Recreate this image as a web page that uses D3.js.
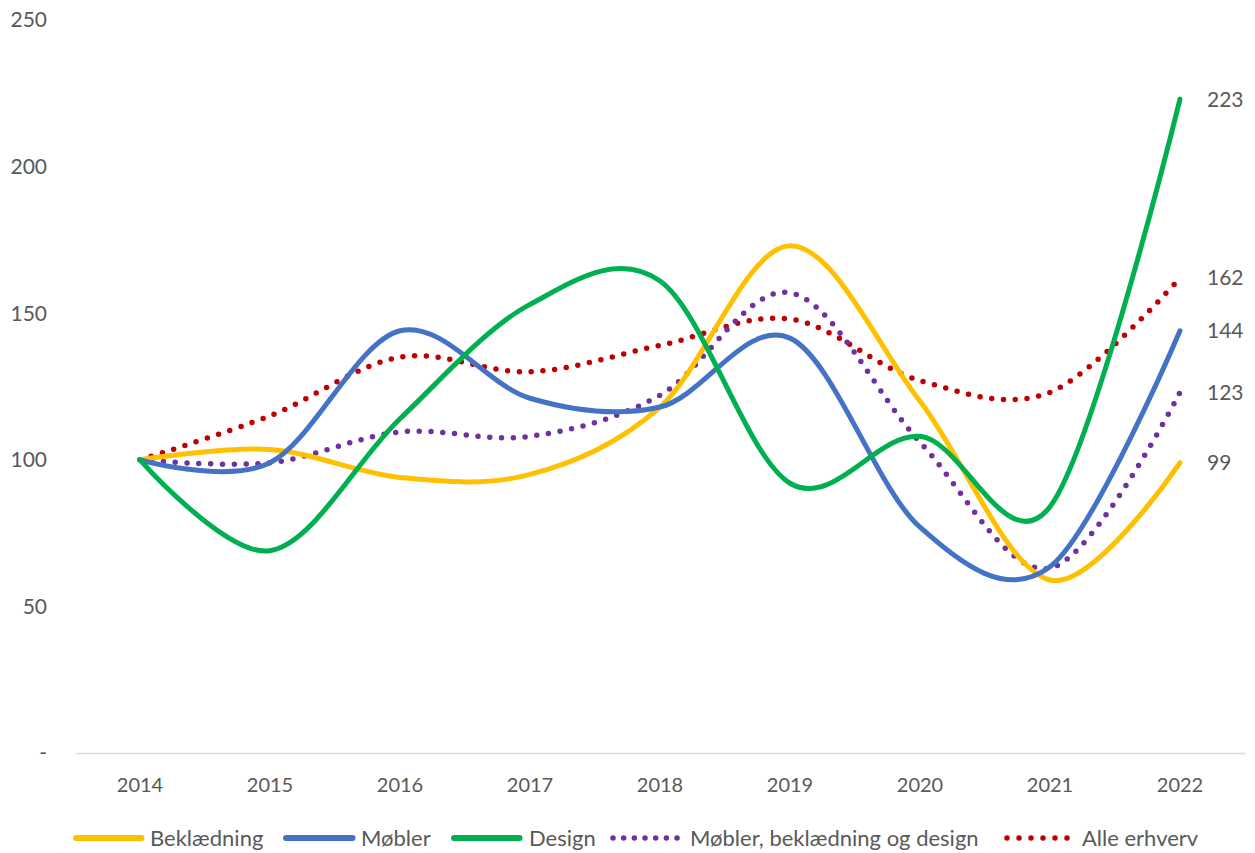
<!DOCTYPE html>
<html><head><meta charset="utf-8">
<script src="https://cdn.jsdelivr.net/npm/d3@7"></script>
<style>body{margin:0;background:#fff}svg{display:block}text{font-family:Lato,"Open Sans",sans-serif;fill:#595959}</style>
</head><body><svg id="c" width="1255" height="853"></svg>
<script>
const years = ["2014","2015","2016","2017","2018","2019","2020","2021","2022"];
const yTicks = [0,50,100,150,200,250];
const seriesNames = ["Beklædning","Møbler","Design","Møbler, beklædning og design","Alle erhverv"];
const beklaedning = [100,103.5,94,95,118,173,120,59,99];
const mobler = [100,99,144,121,118,141.5,77,63.5,144];
const design = [100,69,114,153,161,92,108,84,223];
const samlet = [100,99,109.5,108,122,157,106,63,123];
const alle = [100,115,135,130,139,148,127,123,162];
const endLabels = [99,144,223,123,162];
const colors = ["#FFC000","#4472C4","#00B050","#7030A0","#C00000"];
const dotted = [false,false,false,true,true];

const svg = d3.select("#c");
const x = d3.scaleBand().domain(years).range([75,1245]).padding(0);
const cx = d => x(d)+x.bandwidth()/2;
const y = d3.scaleLinear().domain([0,250]).range([753,20]);

// y labels
svg.append("g").selectAll("text").data(yTicks).join("text")
  .attr("x",47).attr("y",d=>y(d)).attr("dy","0.35em").attr("text-anchor","end")
  .style("font-size","21px").text(d=>d===0?"-":d);

// x axis
const xa = svg.append("g").attr("transform","translate(0,753)")
  .call(d3.axisBottom(x).tickSize(0));
xa.select(".domain").attr("stroke","#d9d9d9").attr("stroke-width",1.5);
xa.selectAll("text").attr("y",32).attr("dy","0.35em").style("font-size","20px")
  .style("font-family","Lato,sans-serif").attr("fill","#595959");

const all = [beklaedning,mobler,design,samlet,alle];
const line = d3.line().x((d,i)=>cx(years[i])).y(d=>y(d)).curve(d3.curveCatmullRom.alpha(0));
const order = [4,3,0,1,2];
order.forEach(k=>{
  const p = svg.append("path").datum(all[k]).attr("d",line).attr("fill","none")
    .attr("stroke",colors[k]).attr("stroke-linecap","round").attr("stroke-linejoin","round");
  if(dotted[k]) p.attr("stroke-width",5.5).attr("stroke-dasharray","0 11.8");
  else p.attr("stroke-width",5);
});

// end labels
svg.append("g").selectAll("text").data(endLabels).join("text")
  .attr("x",1207).attr("y",d=>y(d)).attr("dy","0.35em")
  .style("font-size","21px").attr("fill","#404040").text(d=>d);

// legend
const legLine = [[76,141],[286,352],[454,519],[613,677],[1007,1067]];
const legText = [150,361,529,690,1082];
const dotGap = [0,0,0,10.67,12];
const ly = 838;
const lg = svg.append("g");
seriesNames.forEach((n,k)=>{
  const l = lg.append("line").attr("x1",legLine[k][0]).attr("x2",legLine[k][1]+0.5)
    .attr("y1",ly).attr("y2",ly).attr("stroke",colors[k]).attr("stroke-linecap","round");
  if(dotted[k]) l.attr("stroke-width",5.5).attr("stroke-dasharray","0 "+dotGap[k]);
  else l.attr("stroke-width",6);
  lg.append("text").attr("x",legText[k]).attr("y",ly).attr("dy","0.35em").style("font-size","22px").text(n);
});
</script></body></html>
